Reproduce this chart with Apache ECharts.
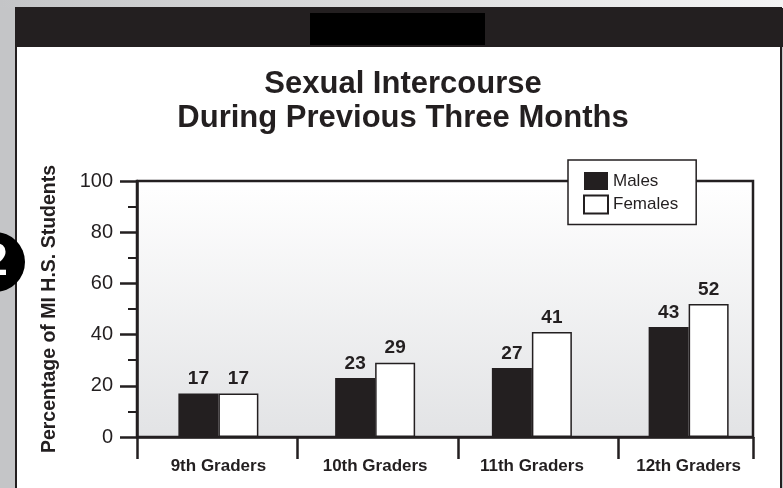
<!DOCTYPE html>
<html><head><meta charset="utf-8">
<script src="https://cdn.jsdelivr.net/npm/echarts@6/dist/echarts.min.js"></script>
<style>html,body{margin:0;padding:0;background:#c4c5c7;overflow:hidden}#c{width:783px;height:488px}</style>
</head><body><div id="c"></div>
<script>
// ---- data ----
const categories = ['9th Graders', '10th Graders', '11th Graders', '12th Graders'];
const seriesNames = ['Males', 'Females'];
const males = [17, 23, 27, 43];
const females = [17, 29, 41, 52];
const yMin = 0, yMax = 100, yStep = 20;
const titleText = 'Sexual Intercourse\nDuring Previous Three Months';
const yName = 'Percentage of MI H.S. Students';
const pageNumber = '2';

// ---- styles ----
const INK = '#231f20';
const FONT = '"Liberation Sans", Arial, Helvetica, sans-serif';

const chart = echarts.init(document.getElementById('c'), null, {renderer: 'canvas'});
chart.setOption({
  animation: false,
  backgroundColor: 'transparent',
  textStyle: {fontFamily: FONT, color: INK},
  graphic: [
    {type: 'rect', z: -10, z2: 1, silent: true, shape: {x: 0, y: 0, width: 783, height: 8},
      style: {fill: new echarts.graphic.LinearGradient(0, 0, 1, 0, [{offset: 0, color: '#c4c5c7'}, {offset: 1, color: '#f4f4f4'}])}},
    {type: 'rect', z: -10, z2: 2, silent: true, shape: {x: 16, y: 8, width: 765, height: 482},
      style: {fill: '#ffffff', stroke: INK, lineWidth: 2}},
    {type: 'rect', z: -10, z2: 3, silent: true, shape: {x: 15, y: 8, width: 768, height: 39},
      style: {fill: INK}},
    {type: 'rect', z: -10, z2: 4, silent: true, shape: {x: 310, y: 13, width: 175, height: 32},
      style: {fill: '#000000'}},
    {type: 'circle', z: -10, z2: 5, silent: true, shape: {cx: -5, cy: 262, r: 30},
      style: {fill: '#000000'}},
    {type: 'text', z: -10, z2: 6, silent: true, x: -5, y: 262,
      style: {text: pageNumber, fill: '#ffffff', font: 'bold 46px ' + FONT, align: 'center', verticalAlign: 'middle'}}
  ],
  title: {
    text: titleText,
    left: 403, top: 67, textAlign: 'center', padding: 0,
    textStyle: {fontSize: 31, fontWeight: 'bold', lineHeight: 34, color: INK, fontFamily: FONT}
  },
  legend: {
    data: seriesNames,
    orient: 'vertical',
    left: 568, top: 160,
    padding: [12, 18, 10, 15],
    itemWidth: 24, itemHeight: 18, itemGap: 4.5,
    icon: 'rect',
    backgroundColor: '#ffffff',
    borderColor: INK, borderWidth: 1.5,
    textStyle: {fontSize: 17, color: INK, fontFamily: FONT},
    z: 10
  },
  grid: [
    {left: 140, right: 16, top: 181, bottom: 51, show: false},
    {left: 137, right: 30, top: 181, bottom: 51, show: true,
      backgroundColor: new echarts.graphic.LinearGradient(0, 0, 0, 1, [{offset: 0, color: '#ffffff'}, {offset: 1, color: '#e2e3e5'}]),
      borderColor: INK, borderWidth: 2.5}
  ],
  xAxis: [
    {type: 'category', gridIndex: 0, data: categories,
      axisLine: {show: false}, axisTick: {show: false}, splitLine: {show: false},
      axisLabel: {fontSize: 17, fontWeight: 'bold', color: INK, margin: 21, fontFamily: FONT, interval: 0}},
    {type: 'value', gridIndex: 1, min: 0, max: 3.84, interval: 1,
      axisLine: {show: true, lineStyle: {color: INK, width: 2.5}},
      axisTick: {show: true, length: 22, lineStyle: {color: INK, width: 2.5}},
      axisLabel: {show: false}, splitLine: {show: false}}
  ],
  yAxis: [
    {type: 'value', gridIndex: 0, min: yMin, max: yMax, interval: yStep, show: false, splitLine: {show: false}},
    {type: 'value', gridIndex: 1, min: yMin, max: yMax, interval: yStep,
      name: yName, nameLocation: 'middle', nameGap: 77, nameRotate: 90,
      nameTextStyle: {fontSize: 19.5, fontWeight: 'bold', color: INK, fontFamily: FONT},
      axisLine: {show: true, lineStyle: {color: INK, width: 2.5}},
      axisTick: {show: true, length: 17, lineStyle: {color: INK, width: 2.5}},
      minorTick: {show: true, splitNumber: 2, length: 9, lineStyle: {color: INK, width: 2}},
      axisLabel: {fontSize: 20, color: INK, margin: 24, fontFamily: FONT},
      splitLine: {show: false}}
  ],
  series: [
    {name: seriesNames[0], type: 'bar', xAxisIndex: 0, yAxisIndex: 0, data: males,
      barWidth: 40, barGap: '0%',
      itemStyle: {color: INK},
      label: {show: true, position: 'top', distance: 5, fontSize: 19, fontWeight: 'bold', color: INK, fontFamily: FONT}},
    {name: seriesNames[1], type: 'bar', xAxisIndex: 0, yAxisIndex: 0, data: females,
      barWidth: 40, barGap: '0%',
      itemStyle: {color: '#ffffff', borderColor: INK, borderWidth: 1.5},
      label: {show: true, position: 'top', distance: 5, fontSize: 19, fontWeight: 'bold', color: INK, fontFamily: FONT}}
  ]
});
</script>
</body></html>
